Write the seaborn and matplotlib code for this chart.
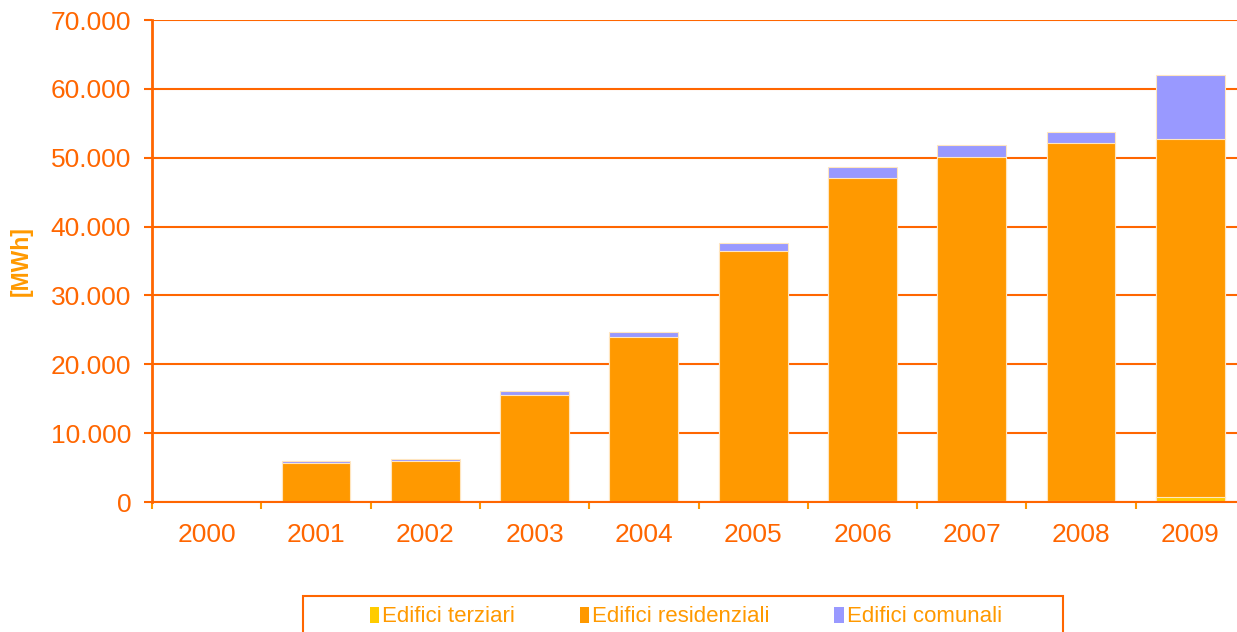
import matplotlib
matplotlib.use("Agg")
import matplotlib.pyplot as plt
from matplotlib.patches import Rectangle, Patch
from matplotlib.ticker import FuncFormatter, FixedLocator
import seaborn as sns
import pandas as pd
import numpy as np

years = ["2000", "2001", "2002", "2003", "2004", "2005", "2006", "2007", "2008", "2009"]
terziari = [0, 0, 0, 0, 0, 0, 150, 180, 200, 700]
residenziali = [0, 5600, 6000, 15500, 24000, 36400, 46900, 49950, 51900, 52000]
comunali = [0, 300, 250, 600, 700, 1200, 1550, 1700, 1700, 9350]
series_names = ["Edifici terziari", "Edifici residenziali", "Edifici comunali"]
colors = ["#FFCC00", "#FF9900", "#9999FF"]

sns.set_style("white")
plt.rcParams["font.family"] = ["Liberation Sans", "DejaVu Sans"]

TXT = "#FF6600"
AX = "#FF6600"

fig = plt.figure(figsize=(12.37, 6.32), dpi=100)
W, H = 1237, 632
ax = fig.add_axes([152 / W, 1 - 502 / H, (1245 - 152) / W, (502 - 20) / H])

t = np.array(terziari, float)
r = np.array(residenziali, float)
c = np.array(comunali, float)
df = pd.DataFrame({
    "year": years,
    "total": t + r + c,
    "tr": t + r,
    "t": t,
})

for col, colr in [("total", colors[2]), ("tr", colors[1]), ("t", colors[0])]:
    sns.barplot(data=df, x="year", y=col, color=colr, width=0.63,
                edgecolor="#FFE6C0", linewidth=0.8, saturation=1, ax=ax, zorder=2)

ax.set_xlim(-0.5, 9.5)
ax.set_ylim(0, 70000)
ax.set_yticks(np.arange(0, 70001, 10000))
ax.yaxis.set_major_formatter(FuncFormatter(lambda v, p: f"{int(v):,}".replace(",", ".")))
ax.set_axisbelow(True)
ax.yaxis.grid(True, color=AX, linewidth=1.5)
ax.xaxis.grid(False)

for s in ["top", "right"]:
    ax.spines[s].set_visible(False)
ax.spines["left"].set_color(AX)
ax.spines["left"].set_linewidth(2)
ax.spines["bottom"].set_color(AX)
ax.spines["bottom"].set_linewidth(1.5)
ax.spines["bottom"].set_zorder(3)

ax.tick_params(axis="y", which="major", left=True, length=6, width=1.5, color=AX,
               labelcolor=TXT, labelsize=19, pad=9)
ax.tick_params(axis="x", which="major", bottom=True, length=0, labelcolor=TXT,
               labelsize=19, pad=15)
ax.xaxis.set_minor_locator(FixedLocator(np.arange(-0.5, 10, 1)))
ax.tick_params(axis="x", which="minor", bottom=True, length=5, width=1.5, color="#FF9900")

ax.set_xlabel("")
ax.set_ylabel("[MWh]", color="#FF9900", fontsize=16.5, fontweight="bold")
ax.yaxis.set_label_coords(-119 / (1245 - 152), 0.5)

# legend box
fig.patches.append(Rectangle((303 / W, -0.05), (1063 - 303) / W, (632 - 596) / H + 0.05,
                             transform=fig.transFigure, fill=False, edgecolor="#FF6600",
                             linewidth=1.5))
handles = [Patch(facecolor=colors[i], edgecolor="none", label=series_names[i]) for i in range(3)]
fig.legend(handles=handles, loc="center", bbox_to_anchor=(686 / W, 1 - 617 / H), ncol=3,
           frameon=False, fontsize=16, labelcolor="#FF9900", handlelength=0.42,
           handleheight=0.7, handletextpad=0.15, columnspacing=2.9, borderpad=0)

fig.savefig("out.png", dpi=100)
